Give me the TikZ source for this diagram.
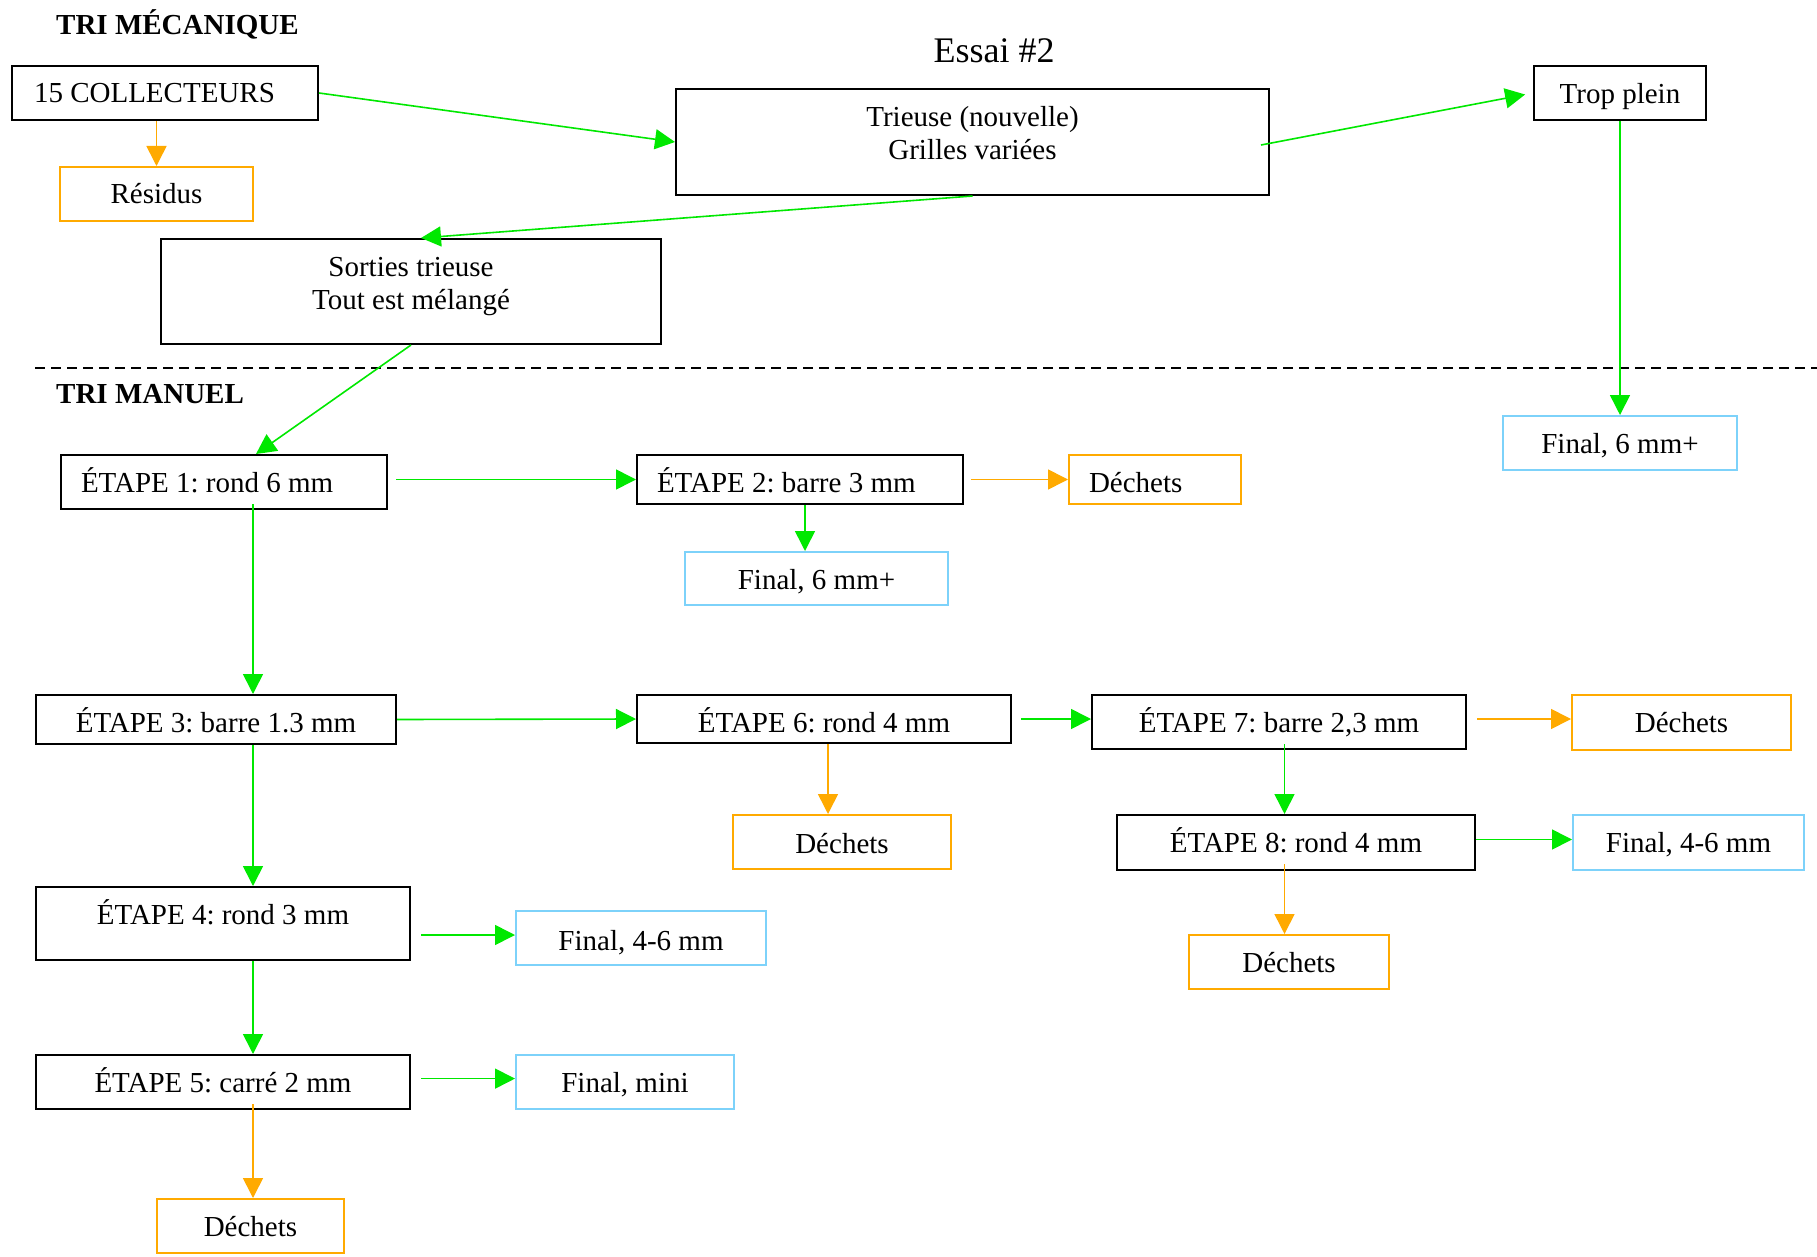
\documentclass[tikz,border=0pt]{standalone}
\usepackage{fontspec}
\setmainfont{Liberation Serif}
\usetikzlibrary{arrows.meta,calc}
\definecolor{cgreen}{RGB}{0,232,0}
\definecolor{corange}{RGB}{255,170,0}
\definecolor{cblue}{RGB}{125,210,250}
\frenchspacing
\begin{document}
\frenchspacing
\begin{tikzpicture}[x=1pt,y=-1pt,
  every node/.style={font=\fontsize{29}{33}\selectfont\frenchspacing},
  blk/.style={draw=black, line width=2pt, rectangle, inner xsep=0pt, inner ysep=0pt, text height=37pt, anchor=north west},
  org/.style={blk, draw=corange},
  blu/.style={blk, draw=cblue},
  lft/.style={align=flush left, inner xsep=#1},
  conn/.style={line width=1.6pt, -{Triangle[length=20pt,width=20pt]}},
  ga/.style={conn, draw=cgreen},
  oa/.style={conn, draw=corange},
  sep/.style={draw=black, line width=2pt, dash pattern=on 10pt off 6pt},
  ttl/.style={anchor=base west, inner sep=0pt, font=\bfseries\fontsize{29}{33}\selectfont}]
\useasboundingbox (0,0) rectangle (1817,1257);
\fill[white] (0,0) rectangle (1817,1257);

% titles
\node[ttl] (t1) at (56,35) {TRI MÉCANIQUE};
\node[anchor=base, inner sep=0pt, font=\fontsize{36}{40}\selectfont] (t2) at (994,63) {Essai \#2};
\node[ttl] (t3) at (56,403) {TRI MANUEL};

% separator
\coordinate (dl) at (35,368);
\coordinate (dr) at (1817,368);
\draw[sep] (dl) -- (dr);

% boxes
\node[blk, lft=22pt, text width=262pt, text depth=17pt] (col) at (11,65) {15 COLLECTEURS};
\node[org, minimum width=193pt, text depth=17pt] (res) at (59,166) {Résidus};
\node[blk, minimum width=593pt, text height=71pt, text depth=35pt, align=center] (tri) at (675,88) {Trieuse (nouvelle)\\Grilles variées};
\node[blk, minimum width=500pt, text height=70pt, text depth=35pt, align=center] (sor) at (160,238) {Sorties trieuse\\Tout est mélangé};
\node[blk, minimum width=172pt, text height=38pt, text depth=16pt] (tp) at (1533,65) {Trop plein};
\node[blu, minimum width=234pt, text depth=17pt] (f6a) at (1502,415) {Final, 6 mm+};
\node[blk, lft=20pt, text width=286pt, text depth=17pt] (e1) at (60,454) {ÉTAPE 1: rond 6 mm};
\node[blk, lft=20pt, text width=286pt, text depth=12pt] (e2) at (636,454) {ÉTAPE 2: barre 3 mm};
\node[org, lft=20pt, text width=132pt, text depth=12pt] (dc1) at (1068,454) {Déchets};
\node[blu, minimum width=263pt, text depth=16pt] (f6b) at (684,551) {Final, 6 mm+};
\node[blk, minimum width=360pt, text depth=12pt] (e3) at (35,694) {ÉTAPE 3: barre 1.3 mm};
\node[blk, minimum width=374pt, text depth=11pt] (e6) at (636,694) {ÉTAPE 6: rond 4 mm};
\node[blk, minimum width=374pt, text depth=17pt] (e7) at (1091,694) {ÉTAPE 7: barre 2,3 mm};
\node[org, minimum width=219pt, text depth=18pt] (dc2) at (1571,694) {Déchets};
\node[org, minimum width=218pt, text height=38pt, text depth=16pt] (dc3) at (732,814) {Déchets};
\node[blk, minimum width=358pt, text depth=18pt] (e8) at (1116,814) {ÉTAPE 8: rond 4 mm};
\node[blu, minimum width=231pt, text depth=18pt] (f46r) at (1572,814) {Final, 4-6 mm};
\node[org, minimum width=200pt, text depth=17pt] (dc4) at (1188,934) {Déchets};
\node[blk, minimum width=374pt, text depth=36pt] (e4) at (35,886) {ÉTAPE 4: rond 3 mm};
\node[blu, minimum width=250pt, text height=39pt, text depth=15pt] (f46l) at (515,910) {Final, 4-6 mm};
\node[blk, minimum width=374pt, text depth=17pt] (e5) at (35,1054) {ÉTAPE 5: carré 2 mm};
\node[blu, minimum width=218pt, text depth=17pt] (fmini) at (515,1054) {Final, mini};
\node[org, minimum width=187pt, text depth=17pt] (dc5) at (156,1198) {Déchets};

% connectors
\draw[ga] (col.east) -- (tri.west);
\draw[oa] (res.north |- col.south) -- (res.north);
\draw[ga, shorten >=8pt] ($(tri.east)+(-9,3)$) -- (tp.west);
\draw[ga] (tri.south) -- ($(sor.north)+(10,0)$);
\draw[ga] (sor.south) -- ($(e1.north)+(32,0)$);
\draw[ga] (tp.south) -- (tp.south |- f6a.north);
\draw[ga, shorten <=8pt] (e1.east |- e2.west) -- (e2.west);
\draw[oa, shorten <=7pt] (e2.east) -- (dc1.west);
\coordinate (v2) at ($(e2.south)+(5,0)$);
\draw[ga] (v2) -- (v2 |- f6b.north);
\coordinate (v1) at ($(e1.south)+(29,-6)$);
\draw[ga] (v1) -- (v1 |- e3.north);
\draw[ga] (e3.east) -- (e6.west);
\draw[ga] (v1 |- e3.south) -- (v1 |- e4.north);
\draw[ga] (v1 |- e4.south) -- (v1 |- e5.north);
\draw[oa] ($(v1 |- e5.south)+(0,-6)$) -- (v1 |- dc5.north);
\draw[ga, shorten <=9pt] (e6.east) -- (e6.east -| e7.west);
\coordinate (v6) at ($(e6.south)+(4,0)$);
\draw[oa] (v6) -- (v6 |- dc3.north);
\draw[oa, shorten <=10pt] (e6.east -| e7.east) -- (e6.east -| dc2.west);
\coordinate (v7) at ($(e7.south)+(5.5,-6)$);
\draw[ga] (v7) -- (v7 |- e8.north);
\coordinate (h8) at ($(e8.east)+(0,-3)$);
\draw[ga] (h8) -- (h8 -| f46r.west);
\draw[oa] ($(v7 |- e8.south)+(0,-7)$) -- (v7 |- dc4.north);
\coordinate (h4) at ($(e4.east)+(10,11.5)$);
\draw[ga] (h4) -- (h4 -| f46l.west);
\coordinate (h5) at ($(e5.east)+(10,-3.4)$);
\draw[ga] (h5) -- (h5 -| fmini.west);
\end{tikzpicture}
\end{document}
